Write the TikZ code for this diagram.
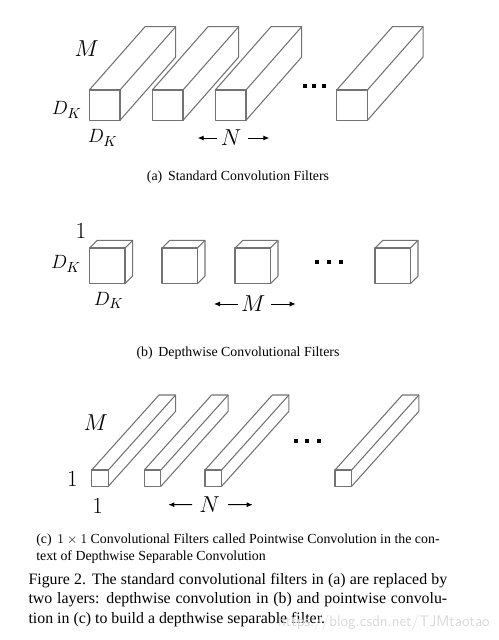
\documentclass[tikz,border=0pt]{standalone}
\usepackage{fontspec}
\setmainfont{Liberation Serif}
\usetikzlibrary{arrows.meta}
\definecolor{boxgray}{gray}{0.45}
% front corner x,y ; front width,height ; depth dx,dy
\newcommand{\FilterBox}[6]{
  \draw[boxline] (#1,#2) rectangle ++(#3,#4);
  \draw[boxline] (#1,#2) -- ++(#5,-#6) -- ++(#3,0) -- ++(0,#4) -- ++(-#5,#6);
  \draw[boxline] (#1+#3,#2) -- ++(#5,-#6);
}
\begin{document}
\begin{tikzpicture}[x=0.75pt,y=-0.75pt,
  boxline/.style={draw=boxgray, line width=0.8pt, line join=round},
  dimlabel/.style={inner sep=0pt, font=\fontsize{15}{15}\selectfont},
  biglabel/.style={inner sep=0pt, font=\fontsize{17.5}{17.5}\selectfont},
  sizearrow/.style={-{Latex[length=4.5pt,width=3.8pt]}, black, line width=0.7pt},
  subcap/.style={inner sep=0pt, font=\fontsize{10.4}{12.2}\selectfont},
  dotmark/.style={fill=black, inner sep=0pt, minimum size=2.9pt, shape=rectangle}]
\useasboundingbox (0,0) rectangle (499,640);

% ===== panel a =====
\foreach \x in {89.3,152.3,215.3,336.7} \FilterBox{\x}{90}{30.7}{30.3}{55.7}{63.3}
\foreach \x [count=\i] in {305,314.3,323.7} \node[dotmark] (adot\i) at (\x,86) {};
\node[biglabel] (aM) at (86.7,49) {$M$};
\node[dimlabel] (aDleft) at (66.7,110) {$D_K$};
\node[dimlabel] (aDbot) at (102.7,138) {$D_K$};
\node[biglabel] (aN) at (231,138) {$N$};
\coordinate (aNl) at (197.7,138);
\coordinate (aNr) at (269.3,138);
\draw[sizearrow] (aN.west)+(-3,0) -- (aNl);
\draw[sizearrow] (aN.east)+(6,0) -- (aNr);
\node[subcap] (acap) at (238,176.7) {(a)\, Standard Convolution Filters};

% ===== panel b =====
\foreach \x in {89.7,162,235,375} \FilterBox{\x}{248}{35.3}{35.7}{7.7}{7.7}
\foreach \x [count=\i] in {317.3,329.3,341} \node[dotmark] (bdot\i) at (\x,262.3) {};
\node[biglabel] (bone) at (81,230.7) {$1$};
\node[dimlabel] (bDleft) at (66,264) {$D_K$};
\node[dimlabel] (bDbot) at (108.7,300.7) {$D_K$};
\node[biglabel] (bM) at (253.3,304) {$M$};
\coordinate (bMl) at (214,304);
\coordinate (bMr) at (295.7,304);
\draw[sizearrow] (bM.west)+(-3,0) -- (bMl);
\draw[sizearrow] (bM.east)+(5,0) -- (bMr);
\node[subcap] (bcap) at (238,353.3) {(b)\, Depthwise Convolutional Filters};

% ===== panel c =====
\foreach \x in {91.7,144.3,205,335} \FilterBox{\x}{470}{16.6}{16.3}{67.3}{75}
\foreach \x [count=\i] in {296,307.3,319.3} \node[dotmark] (cdot\i) at (\x,441.3) {};
\node[biglabel] (cM) at (95.7,422.3) {$M$};
\node[biglabel] (cleft) at (72.3,479) {$1$};
\node[biglabel] (cbot) at (97.7,505.7) {$1$};
\node[biglabel] (cN) at (209.7,505) {$N$};
\coordinate (cNl) at (168.3,504.7);
\coordinate (cNr) at (252.7,504.7);
\draw[sizearrow] (cN.west)+(-7,-0.3) -- (cNl);
\draw[sizearrow] (cN.east)+(8,-0.3) -- (cNr);
\node[subcap, anchor=north west, text width=302.5pt, align=justify] (ccap) at (36,534)
  {(c)\, $1\times 1$ Convolutional Filters called Pointwise Convolution in the con-\linebreak
   text of Depthwise Separable Convolution};

% ===== figure caption =====
\node[inner sep=0pt, anchor=north west, text width=314pt, align=justify,
  font=\fontsize{11.9}{14.5}\selectfont] (figcap) at (28.3,573)
  {Figure 2. The standard convolutional filters in (a) are replaced by\linebreak
   two layers: depthwise convolution in (b) and pointwise convolu-\linebreak
   tion in (c) to build a depthwise separable filter.};
\node[inner sep=0pt, anchor=east, black!15, font=\fontsize{11.5}{12}\sffamily] (mark) at (490,622.5)
  {https://blog.csdn.net/TJMtaotao};
\end{tikzpicture}
\end{document}
